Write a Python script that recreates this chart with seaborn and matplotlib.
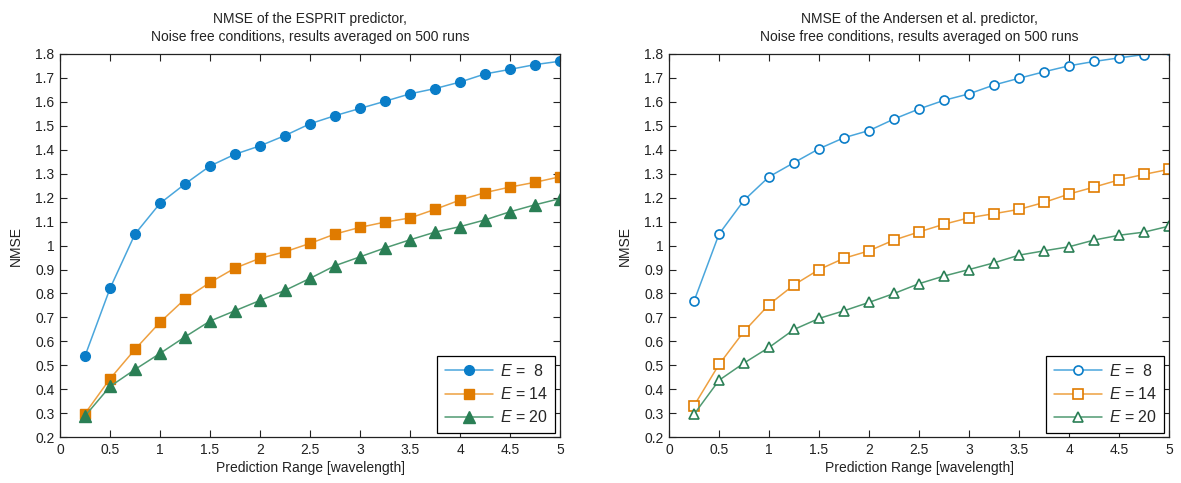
import numpy as np
import pandas as pd
import seaborn as sns
import matplotlib
matplotlib.use("Agg")
import matplotlib.pyplot as plt
from matplotlib.ticker import FuncFormatter

# ---- data ----
x_range = [0.25, 0.5, 0.75, 1.0, 1.25, 1.5, 1.75, 2.0, 2.25, 2.5,
           2.75, 3.0, 3.25, 3.5, 3.75, 4.0, 4.25, 4.5, 4.75, 5.0]

esprit_e8 = [0.539, 0.821, 1.048, 1.176, 1.257, 1.332, 1.381, 1.416, 1.459, 1.508,
             1.542, 1.572, 1.602, 1.633, 1.655, 1.682, 1.716, 1.735, 1.755, 1.769]
esprit_e14 = [0.299, 0.444, 0.567, 0.680, 0.777, 0.846, 0.906, 0.947, 0.974, 1.009,
              1.048, 1.076, 1.098, 1.115, 1.151, 1.190, 1.221, 1.244, 1.264, 1.287]
esprit_e20 = [0.289, 0.412, 0.483, 0.550, 0.619, 0.685, 0.728, 0.771, 0.813, 0.863,
              0.916, 0.953, 0.990, 1.024, 1.056, 1.079, 1.107, 1.141, 1.170, 1.196]

andersen_e8 = [0.768, 1.048, 1.189, 1.287, 1.346, 1.404, 1.450, 1.480, 1.528, 1.570,
               1.606, 1.633, 1.670, 1.698, 1.725, 1.750, 1.768, 1.783, 1.797, 1.815]
andersen_e14 = [0.332, 0.504, 0.642, 0.754, 0.836, 0.900, 0.947, 0.978, 1.023, 1.057,
                1.089, 1.116, 1.133, 1.151, 1.180, 1.215, 1.244, 1.274, 1.297, 1.318]
andersen_e20 = [0.296, 0.438, 0.510, 0.575, 0.650, 0.696, 0.728, 0.763, 0.800, 0.841,
                0.873, 0.900, 0.928, 0.960, 0.978, 0.995, 1.023, 1.043, 1.056, 1.081]

labels = [r"$E$ =  8", r"$E$ = 14", r"$E$ = 20"]
titles = ["NMSE of the ESPRIT predictor,\nNoise free conditions, results averaged on 500 runs",
          "NMSE of the Andersen et al. predictor,\nNoise free conditions, results averaged on 500 runs"]
x_label = "Prediction Range [wavelength]"
y_label = "NMSE"

# ---- styling ----
sns.set_style("ticks")
plt.rcParams['font.family'] = ['Liberation Sans', 'DejaVu Sans']
plt.rcParams['mathtext.fontset'] = 'custom'
plt.rcParams['mathtext.it'] = 'Liberation Sans:italic'
plt.rcParams['mathtext.rm'] = 'Liberation Sans'

colors = ['#0a7dc8', '#e07b00', '#2a7f55']
line_colors = ['#4aa6dc', '#eea040', '#4f9a72']
markers = ['o', 's', '^']
msizes = [7, 7, 8]
text_color = '#222222'

fig = plt.figure(figsize=(11.81, 4.83), dpi=100)
ax_l = fig.add_axes([0.0508, 0.0946, 0.4234, 0.794])
ax_r = fig.add_axes([0.5665, 0.0946, 0.4234, 0.794])

panels = [(ax_l, [esprit_e8, esprit_e14, esprit_e20], True),
          (ax_r, [andersen_e8, andersen_e14, andersen_e20], False)]

for (ax, series, filled), title in zip(panels, titles):
    for ys, lab, c, lc, m, ms in zip(series, labels, colors, line_colors, markers, msizes):
        df = pd.DataFrame({"x": x_range, "y": ys})
        sns.lineplot(data=df, x="x", y="y", ax=ax, color=lc, linewidth=1.1,
                     marker=m, markersize=ms if filled else ms - 0.5,
                     markerfacecolor=c if filled else 'white',
                     markeredgecolor=c, markeredgewidth=1.0 if filled else 1.2,
                     label=lab)
    ax.set_xlim(0, 5)
    ax.set_ylim(0.2, 1.8)
    ax.set_xticks(np.arange(0, 5.01, 0.5))
    ax.set_yticks(np.arange(0.2, 1.801, 0.1))
    fmt = FuncFormatter(lambda v, p: ('%g' % round(v, 2)))
    ax.xaxis.set_major_formatter(fmt)
    ax.yaxis.set_major_formatter(fmt)
    ax.tick_params(direction='in', top=True, right=True, length=5, width=0.8,
                   labelsize=10, colors=text_color, pad=4)
    for sp in ax.spines.values():
        sp.set_visible(True)
        sp.set_linewidth(0.9)
        sp.set_color(text_color)
    ax.set_xlabel(x_label, fontsize=10, color=text_color, labelpad=3)
    ax.set_ylabel(y_label, fontsize=10, color=text_color, labelpad=9)
    ax.set_title(title, fontsize=10, color=text_color, pad=9, linespacing=1.4)
    leg = ax.legend(loc='lower right', fancybox=False, edgecolor='black',
                    framealpha=1, fontsize=11.5, handlelength=3.0,
                    handletextpad=0.45, borderaxespad=0.3,
                    labelspacing=0.45, borderpad=0.45)
    leg.get_frame().set_linewidth(0.9)

fig.savefig("out.png", dpi=100)
